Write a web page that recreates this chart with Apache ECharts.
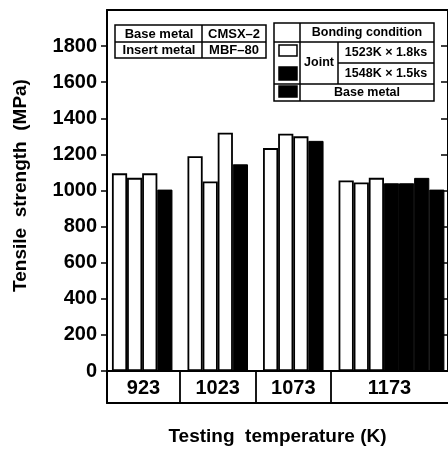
<!DOCTYPE html>
<html>
<head>
<meta charset="utf-8">
<script src="https://cdn.jsdelivr.net/npm/echarts@6/dist/echarts.min.js"></script>
<style>
    html, body {margin: 0; padding: 0; background: #fff;}
    #chart {width: 448px; height: 450px;}
</style>
</head>
<body>
<div id="chart"></div>
<script>
    //测试温度分组
    const groups = ['923', '1023', '1073', '1173'];
    //接头 1523K x 1.8ks
    const joint1523 = [[1095, 1070, 1095], [1190, 1050, 1320], [1235, 1315, 1300], [1055, 1045, 1070]];
    //接头 1548K x 1.5ks
    const joint1548 = [[], [], [], [1040, 1040, 1070]];
    //母材
    const baseMetal = [1005, 1145, 1275, 1005];
    //y轴刻度
    const yTicks = [0, 200, 400, 600, 800, 1000, 1200, 1400, 1600, 1800];

    const font = '"Liberation Sans", Arial, Helvetica, sans-serif';
    const slotsPerGroup = 5;
    const xMin = -0.83, xMax = 21.74;
    const barPx = 15.2;

    //按分组排出每根柱子的位置
    let d1523 = [], d1548 = [], dBase = [];
    groups.forEach((g, gi) => {
        let slot = gi * slotsPerGroup;
        joint1523[gi].forEach(v => d1523.push([slot++, v]));
        joint1548[gi].forEach(v => d1548.push([slot++, v]));
        dBase.push([slot++, baseMetal[gi]]);
    });
    const dividers = groups.slice(1).map((g, i) => (i + 1) * slotsPerGroup - 1);
    const edges = [xMin, ...dividers, xMax];
    const labelPos = groups.map((g, i) => (edges[i] + edges[i + 1]) / 2);

    function groupName(v) {
        let best = 0;
        labelPos.forEach((p, i) => { if (Math.abs(p - v) < Math.abs(labelPos[best] - v)) best = i; });
        return groups[best];
    }

    const line = (x1, y1, x2, y2) => ({
        type: 'line', shape: {x1, y1, x2, y2}, style: {stroke: '#000', lineWidth: 1.5}
    });
    const box = (x, y, width, height, fill) => ({
        type: 'rect', shape: {x, y, width, height}, style: {fill: fill, stroke: '#000', lineWidth: 1.5}
    });
    const txt = (text, x, y, size) => ({
        type: 'text',
        style: {
            text, x, y, fill: '#000', font: 'bold ' + (size || 12.5) + 'px ' + font,
            align: 'center', verticalAlign: 'middle', textAlign: 'center', textVerticalAlign: 'middle'
        }
    });

    const whiteBar = {color: '#fff', borderColor: '#000', borderWidth: 1.8};
    const blackBar = {color: '#000', borderColor: '#000', borderWidth: 1};
    const axisLine = {show: true, onZero: false, lineStyle: {color: '#000', width: 2}};

    const chart = echarts.init(document.getElementById('chart'));
    chart.setOption({
        animation: false,
        backgroundColor: '#fff',
        grid: [
            {left: 107, right: -2, top: 10, height: 361},
            {left: 107, right: -2, top: 371, height: 32}
        ],
        xAxis: [
            {
                type: 'value', gridIndex: 0, min: xMin, max: xMax, position: 'bottom',
                splitLine: {show: false},
                axisLine: axisLine,
                axisTick: {show: true, customValues: dividers, length: 32, lineStyle: {color: '#000', width: 1.8}},
                axisLabel: {
                    show: true, customValues: labelPos, margin: 7,
                    formatter: v => groupName(v),
                    color: '#000', fontFamily: font, fontWeight: 'bold', fontSize: 20
                }
            },
            {
                type: 'value', gridIndex: 0, min: xMin, max: xMax, position: 'top',
                splitLine: {show: false}, axisTick: {show: false}, axisLabel: {show: false},
                axisLine: axisLine
            },
            {
                type: 'value', gridIndex: 1, min: xMin, max: xMax, position: 'bottom',
                splitLine: {show: false}, axisTick: {show: false}, axisLabel: {show: false},
                axisLine: axisLine,
                name: 'Testing  temperature (K)', nameLocation: 'middle', nameGap: 24,
                nameTextStyle: {color: '#000', fontFamily: font, fontWeight: 'bold', fontSize: 19}
            }
        ],
        yAxis: [
            {
                type: 'value', gridIndex: 0, min: 0, max: 2000, interval: 200,
                splitLine: {show: false},
                axisLine: axisLine,
                axisTick: {show: true, customValues: yTicks, length: 6, lineStyle: {color: '#000', width: 1.5}},
                axisLabel: {
                    customValues: yTicks, margin: 10, formatter: v => String(v),
                    color: '#000', fontFamily: font, fontWeight: 'bold', fontSize: 20
                },
                name: 'Tensile  strength  (MPa)', nameLocation: 'middle', nameGap: 77,
                nameTextStyle: {color: '#000', fontFamily: font, fontWeight: 'bold', fontSize: 19, padding: [0, 0, 0, 10]}
            },
            {
                type: 'value', gridIndex: 0, min: 0, max: 2000, interval: 200, position: 'right',
                splitLine: {show: false}, axisLabel: {show: false},
                axisLine: axisLine,
                axisTick: {show: true, inside: true, customValues: yTicks, length: 7, lineStyle: {color: '#000', width: 1.5}}
            },
            {
                type: 'value', gridIndex: 1, min: 0, max: 1,
                splitLine: {show: false}, axisTick: {show: false}, axisLabel: {show: false},
                axisLine: axisLine
            }
        ],
        series: [
            {name: '1523K × 1.8ks', type: 'bar', xAxisIndex: 0, yAxisIndex: 0, data: d1523,
                barWidth: barPx, barGap: '-100%', itemStyle: whiteBar},
            {name: '1548K × 1.5ks', type: 'bar', xAxisIndex: 0, yAxisIndex: 0, data: d1548,
                barWidth: barPx, barGap: '-100%', itemStyle: blackBar},
            {name: 'Base metal', type: 'bar', xAxisIndex: 0, yAxisIndex: 0, data: dBase,
                barWidth: barPx, barGap: '-100%', itemStyle: blackBar}
        ],
        graphic: [
            //材料表
            box(115, 25, 151, 33, '#fff'),
            line(115, 42, 266, 42),
            line(202, 25, 202, 58),
            txt('Base metal', 159, 34, 13),
            txt('CMSX–2', 234, 34, 13),
            txt('Insert metal', 159, 50.5, 13),
            txt('MBF–80', 234, 50.5, 13),
            //接合条件表
            box(274, 23, 160, 78, '#fff'),
            line(274, 42, 434, 42),
            line(338, 63, 434, 63),
            line(274, 84, 434, 84),
            line(300, 23, 300, 101),
            line(338, 42, 338, 84),
            txt('Bonding condition', 367, 33),
            txt('Joint', 319, 63),
            txt('1523K × 1.8ks', 386, 53),
            txt('1548K × 1.5ks', 386, 74),
            txt('Base metal', 367, 93),
            box(279, 45, 18, 11, '#fff'),
            box(279, 67, 18, 13, '#000'),
            box(279, 86, 18, 11, '#000')
        ]
    });
</script>
</body>
</html>
